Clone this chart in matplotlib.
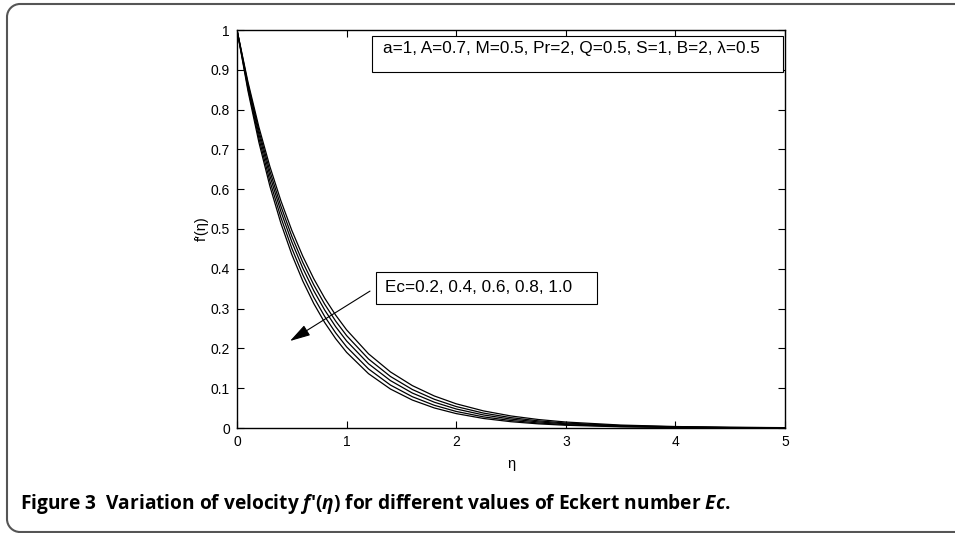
import matplotlib
matplotlib.use("Agg")
import matplotlib.pyplot as plt
from matplotlib.patches import Rectangle, PathPatch
from matplotlib.path import Path
from matplotlib.transforms import IdentityTransform

plt.rcParams['font.family'] = ['Liberation Sans', 'DejaVu Sans']
plt.rcParams['mathtext.fontset'] = 'custom'
plt.rcParams['mathtext.rm'] = 'Open Sans:bold'
plt.rcParams['mathtext.it'] = 'Open Sans:italic:bold'
plt.rcParams['mathtext.bf'] = 'Open Sans:bold'

eta = [0, 0.1, 0.2, 0.3, 0.4, 0.5, 0.6, 0.7, 0.8, 0.9, 1.0, 1.2, 1.4, 1.6, 1.8,
       2.0, 2.25, 2.5, 2.75, 3.0, 3.5, 4.0, 4.5, 5.0]

ec_labels = ["0.2", "0.4", "0.6", "0.8", "1.0"]
fp_ec02 = [1, 0.8694, 0.7558, 0.6570, 0.5712, 0.4966, 0.4317, 0.3753, 0.3263, 0.2837, 0.2466,
           0.1864, 0.1409, 0.1065, 0.0805, 0.0608, 0.0429, 0.0302, 0.0213, 0.0150, 0.0074,
           0.0037, 0.0018, 0.0009]
fp_ec04 = [1, 0.8642, 0.7468, 0.6453, 0.5577, 0.4819, 0.4164, 0.3599, 0.3110, 0.2687, 0.2322,
           0.1734, 0.1295, 0.0967, 0.0722, 0.0539, 0.0374, 0.0260, 0.0180, 0.0125, 0.0060,
           0.0029, 0.0014, 0.0007]
fp_ec06 = [1, 0.8590, 0.7379, 0.6338, 0.5444, 0.4677, 0.4017, 0.3451, 0.2964, 0.2546, 0.2187,
           0.1614, 0.1191, 0.0878, 0.0648, 0.0478, 0.0327, 0.0224, 0.0153, 0.0105, 0.0049,
           0.0023, 0.0011, 0.0005]
fp_ec08 = [1, 0.8530, 0.7276, 0.6206, 0.5294, 0.4516, 0.3852, 0.3286, 0.2803, 0.2391, 0.2039,
           0.1484, 0.1079, 0.0786, 0.0571, 0.0416, 0.0279, 0.0188, 0.0126, 0.0085, 0.0038,
           0.0017, 0.0008, 0.0004]
fp_ec10 = [1, 0.8470, 0.7175, 0.6077, 0.5148, 0.4360, 0.3694, 0.3129, 0.2650, 0.2245, 0.1901,
           0.1365, 0.0979, 0.0702, 0.0504, 0.0362, 0.0239, 0.0158, 0.0104, 0.0069, 0.0030,
           0.0013, 0.0006, 0.0002]
series = [fp_ec02, fp_ec04, fp_ec06, fp_ec08, fp_ec10]

xticks = [0, 1, 2, 3, 4, 5]
yticks = [0, 0.1, 0.2, 0.3, 0.4, 0.5, 0.6, 0.7, 0.8, 0.9, 1]
yticklabels = ["0", "0.1", "0.2", "0.3", "0.4", "0.5", "0.6", "0.7", "0.8", "0.9", "1"]

W, H = 955, 533
fig = plt.figure(figsize=(W / 100, H / 100), dpi=100)
L, R, T, B = 237, 785, 30, 428
ax = fig.add_axes([L / W, 1 - B / H, (R - L) / W, (B - T) / H])


def axfrac(px, py):
    return (px - L) / (R - L), (B - py) / (B - T)


for s in series:
    ax.plot(eta, s, color='black', lw=0.9)

ax.set_xlim(0, 5)
ax.set_ylim(0, 1)
ax.set_xticks(xticks)
ax.set_xticklabels([str(t) for t in xticks])
ax.set_yticks(yticks)
ax.set_yticklabels(yticklabels)
ax.tick_params(direction='in', top=True, right=True, length=5, width=0.8,
               labelsize=10, pad=5)
for sp in ax.spines.values():
    sp.set_linewidth(1.0)

ax.set_xlabel("η", fontsize=10.5, labelpad=6)
ax.set_ylabel("f′(η)", fontsize=10.5, labelpad=1)

# parameter box
x0, y0 = axfrac(372, 72)
x1, y1 = axfrac(783, 36)
ax.add_patch(Rectangle((x0, y0), x1 - x0, y1 - y0, transform=ax.transAxes,
                       fc='white', ec='black', lw=0.8, zorder=3))
tx, ty = axfrac(383, 49)
ax.text(tx, ty, "a=1, A=0.7, M=0.5, Pr=2, Q=0.5, S=1, B=2, λ=0.5",
        transform=ax.transAxes, fontsize=12.3, va='center', ha='left', zorder=4)

# Ec box
x0, y0 = axfrac(376, 304)
x1, y1 = axfrac(597, 272)
ax.add_patch(Rectangle((x0, y0), x1 - x0, y1 - y0, transform=ax.transAxes,
                       fc='white', ec='black', lw=0.8, zorder=3))
tx, ty = axfrac(385, 288)
ax.text(tx, ty, "Ec=0.2, 0.4, 0.6, 0.8, 1.0",
        transform=ax.transAxes, fontsize=12.3, va='center', ha='left', zorder=4)

ax.annotate("", xy=(0.4836, 0.2186), xytext=(1.2135, 0.344),
            arrowprops=dict(arrowstyle='-|>,head_length=0.7,head_width=0.2',
                            color='black', lw=0.8,
                            mutation_scale=18, shrinkA=0, shrinkB=0))

# outer rounded frame (only top and left edges visible, like the page)
r = 13
xl, yt, yb, xr = 7, 529, 1, 1000
k = 0.5523 * r
verts = [(xr, yt), (xl + r, yt),
         (xl + r - k, yt), (xl, yt - r + k), (xl, yt - r),
         (xl, yb + r),
         (xl, yb + r - k), (xl + r - k, yb), (xl + r, yb),
         (xr, yb)]
codes = [Path.MOVETO, Path.LINETO,
         Path.CURVE4, Path.CURVE4, Path.CURVE4,
         Path.LINETO,
         Path.CURVE4, Path.CURVE4, Path.CURVE4,
         Path.LINETO]
fig.add_artist(PathPatch(Path(verts, codes), transform=IdentityTransform(),
                         fc='none', ec='#555555', lw=1.5, clip_on=False))

fig.text(20 / W, 1 - 509 / H,
         r"Figure 3  Variation of velocity $f$′($\eta$) for different values of Eckert number $Ec$.",
         fontsize=13.8, fontweight='bold', family='Open Sans', ha='left', va='baseline')

fig.savefig("out.png", dpi=100)
